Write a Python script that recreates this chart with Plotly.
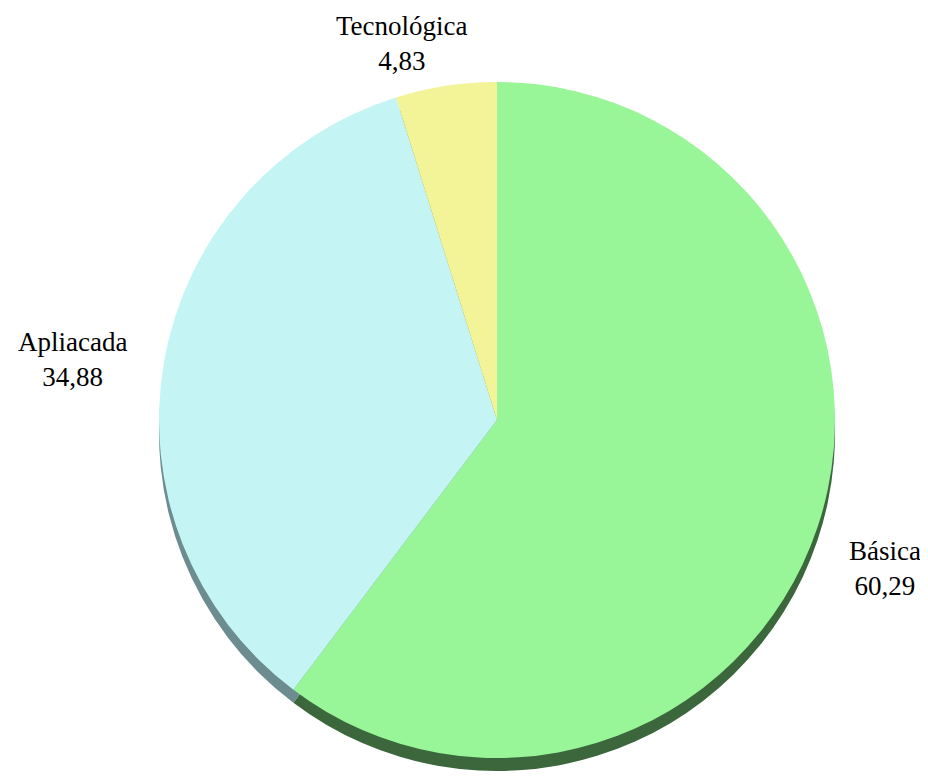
import plotly.graph_objects as go

categories = ["Básica", "Apliacada", "Tecnológica"]
values = [60.29, 34.88, 4.83]
top_colors = ["#98F598", "#C4F4F4", "#F3F397"]
side_colors = ["#3C663C", "#6C8C90", "#8F8F50"]

OFF = 8                        # page body margin
W, H = 928 - 2 * OFF, 779 - 2 * OFF
cx, cy = 497 - OFF, 420 - OFF  # pie centre in figure px
r = 338                        # radius in px
depth = 13                     # thickness of 3D edge in px


def domain(center_x, center_y, radius):
    return dict(
        x=[(center_x - radius) / W, (center_x + radius) / W],
        y=[max(0.0, 1 - (center_y + radius) / H), min(1.0, 1 - (center_y - radius) / H)],
    )


fig = go.Figure()
# side (depth) of the pie
fig.add_trace(go.Pie(
    labels=categories, values=values, sort=False, direction="clockwise", rotation=0,
    marker=dict(colors=side_colors, line=dict(width=0)),
    textinfo="none", hoverinfo="skip", showlegend=False,
    domain=domain(cx, cy + depth, r),
))
# top face
fig.add_trace(go.Pie(
    labels=categories, values=values, sort=False, direction="clockwise", rotation=0,
    marker=dict(colors=top_colors, line=dict(width=0)),
    textinfo="none", showlegend=False,
    domain=domain(cx, cy, r),
))

label_pos = {"Básica": (885, 568), "Apliacada": (72, 360), "Tecnológica": (402, 44)}
annotations = []
for cat, v in zip(categories, values):
    px, py = label_pos[cat]
    annotations.append(dict(
        x=(px - OFF) / W, y=1 - (py - OFF) / H, xref="paper", yref="paper",
        xanchor="center", yanchor="middle", showarrow=False, align="center",
        text=f"{cat}<br>{v:.2f}".replace(".", ","),
        font=dict(family="Liberation Serif", size=27, color="#000000"),
    ))

fig.update_layout(
    width=W, height=H, margin=dict(l=0, r=0, t=0, b=0),
    paper_bgcolor="white", plot_bgcolor="white",
    annotations=annotations, showlegend=False,
)
fig.write_html("out.html")
